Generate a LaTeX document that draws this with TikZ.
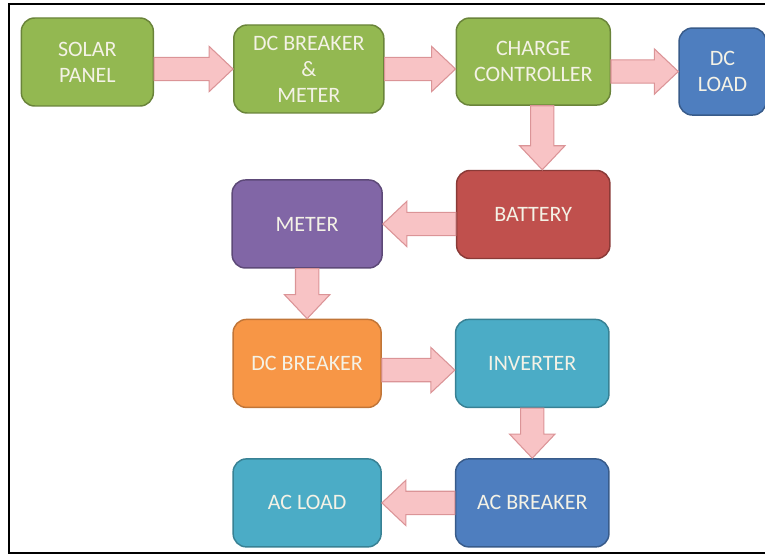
\documentclass[tikz,border=0pt]{standalone}
\usepackage{fontspec}
\setmainfont{Carlito}
\usepackage{tikz}
\usetikzlibrary{positioning, calc}
\definecolor{boxtext}{HTML}{F4F2E6}
\definecolor{boxgreen}{HTML}{93B851}
\definecolor{boxblue}{HTML}{4E7EBF}
\definecolor{boxred}{HTML}{C0504D}
\definecolor{boxpurple}{HTML}{8166A6}
\definecolor{boxorange}{HTML}{F79646}
\definecolor{boxaqua}{HTML}{4BACC6}
\definecolor{arrowfill}{HTML}{F8C3C5}
\definecolor{arrowline}{HTML}{DB9497}
\newcommand{\shafthalf}{8.75pt}
\newcommand{\headhalf}{17pt}
\newcommand{\headlen}{18pt}
\tikzset{block/.style={rectangle, rounded corners=10pt, line width=1.1pt, minimum width=112.5pt, minimum height=66pt, inner sep=0pt, align=center, text=boxtext, font=\fontsize{16.5}{19.5}\selectfont},
	green block/.style={block, fill=boxgreen, draw=boxgreen!72!black},
	blue block/.style={block, fill=boxblue, draw=boxblue!72!black},
	red block/.style={block, fill=boxred, draw=boxred!72!black},
	purple block/.style={block, fill=boxpurple, draw=boxpurple!72!black},
	orange block/.style={block, fill=boxorange, draw=boxorange!78!black},
	aqua block/.style={block, fill=boxaqua, draw=boxaqua!75!black},
	fat arrow/.style={draw=arrowline, fill=arrowfill, line width=0.8pt, line join=miter, to path={
		($(\tikztostart)!\shafthalf!90:(\tikztotarget)$)
		-- ($(\tikztotarget)!\headlen!(\tikztostart)!\shafthalf!90:(\tikztotarget)$)
		-- ($(\tikztotarget)!\headlen!(\tikztostart)!\headhalf!90:(\tikztotarget)$)
		-- (\tikztotarget)
		-- ($(\tikztotarget)!\headlen!(\tikztostart)!\headhalf!-90:(\tikztotarget)$)
		-- ($(\tikztotarget)!\headlen!(\tikztostart)!\shafthalf!-90:(\tikztotarget)$)
		-- ($(\tikztostart)!\shafthalf!-90:(\tikztotarget)$) -- cycle}}}

\begin{document}
\begin{tikzpicture}[node distance=37.5pt]
	\useasboundingbox (0,0) rectangle (573.75pt,-417pt);
	\draw[line width=1.5pt] (6.75pt,-3pt) rectangle (580pt,-414.75pt);
	\node[green block, minimum width=99pt] (Solar Panel) at (65.5pt,-46.5pt) {SOLAR\\ PANEL};
	\node[green block, right=59.25pt of Solar Panel, yshift=-5.25pt] (DC Breaker Meter) {DC BREAKER\\ \&\\ METER};
	\node[green block, minimum width=115.5pt, minimum height=65.25pt, right=53.25pt of DC Breaker Meter, yshift=5.6pt] (Charge Controller) {CHARGE\\ CONTROLLER};
	\node[blue block, minimum width=65.25pt, minimum height=65.25pt, right=50.5pt of Charge Controller, yshift=-7.5pt] (DC Load) {DC\\ LOAD};
	\node[red block, minimum width=115pt, below=48pt of Charge Controller] (Battery) {BATTERY};
	\node[purple block, left=54.75pt of Battery, yshift=-7.1pt] (Meter) {METER};
	\node[orange block, minimum width=111pt, below=of Meter] (DC Breaker) {DC BREAKER};
	\node[aqua block, minimum width=115pt, right=54.75pt of DC Breaker] (Inverter) {INVERTER};
	\node[blue block, minimum width=115pt, below=of Inverter] (AC Breaker) {AC BREAKER};
	\node[aqua block, minimum width=111pt, left=54.75pt of AC Breaker] (AC Load) {AC LOAD};
	\path[fat arrow]
		(Solar Panel.east |- DC Breaker Meter.west) to (DC Breaker Meter.west)
		(DC Breaker Meter.east) to (Charge Controller.west |- DC Breaker Meter.east)
		(Charge Controller.east |- DC Load.west) to (DC Load.west)
		([xshift=6.75pt]Charge Controller.south) to ([xshift=6.75pt]Battery.north)
		(Battery.west |- Meter.east) to (Meter.east)
		(Meter.south) to (DC Breaker.north)
		([yshift=-5pt]DC Breaker.east) to ([yshift=-5pt]Inverter.west)
		(Inverter.south) to (AC Breaker.north)
		(AC Breaker.west) to (AC Load.east);
\end{tikzpicture}
\end{document}
